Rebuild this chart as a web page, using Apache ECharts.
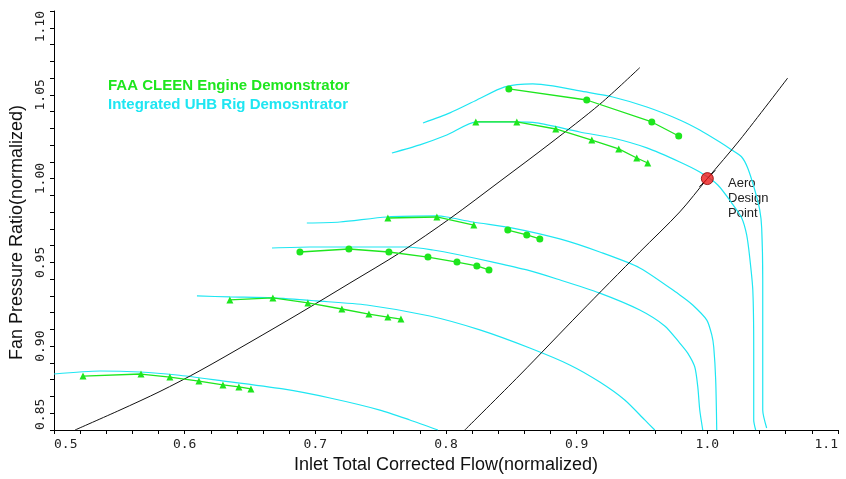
<!DOCTYPE html>
<html>
<head>
<meta charset="utf-8">
<script src="https://cdn.jsdelivr.net/npm/echarts@6/dist/echarts.min.js"></script>
<style>
  html, body { margin: 0; padding: 0; background: #fff; }
  #chart { width: 846px; height: 479px; }
</style>
</head>
<body>
<div id="chart"></div>
<script>
// rig speed lines (cyan), [flow, pressure ratio]
const rigLineA = [[0.7824,1.0332],[0.803,1.0392],[0.8236,1.0469],[0.845,1.0547],[0.8664,1.0565],[0.8817,1.0553],[0.9024,1.0523],[0.9276,1.0487],[0.9537,1.0427],[0.9789,1.035],[0.9942,1.029],[1.0095,1.0218],[1.0187,1.0171],[1.0263,1.0129],[1.0309,1.0063],[1.0363,0.9932],[1.0401,0.9813],[1.0416,0.9705],[1.0424,0.9395],[1.0424,0.8977],[1.0424,0.8619],[1.0454,0.8512]];
const rigLineB = [[0.7586,1.0153],[0.78,1.0201],[0.8006,1.026],[0.8236,1.0338],[0.8511,1.0338],[0.8695,1.0332],[0.9024,1.0278],[0.9276,1.0242],[0.9537,1.0183],[0.9789,1.0099],[0.9942,1.0039],[1.008,0.9962],[1.0187,0.9854],[1.0263,0.9765],[1.0301,0.9664],[1.0324,0.9532],[1.0348,0.9335],[1.0355,0.8977],[1.0355,0.856],[1.037,0.85]];
const rigLineC = [[0.6935,0.9735],[0.7188,0.9741],[0.7547,0.9771],[0.793,0.9777],[0.8006,0.9771],[0.8205,0.9741],[0.8511,0.9705],[0.8871,0.964],[0.9177,0.9562],[0.9483,0.9467],[0.9789,0.9306],[0.9888,0.9246],[0.9996,0.9156],[1.0034,0.9067],[1.0049,0.8995],[1.0064,0.8798],[1.0072,0.85]];
const rigLineD = [[0.6668,0.9586],[0.6958,0.9592],[0.7341,0.9592],[0.7701,0.9592],[0.79,0.9574],[0.8106,0.9544],[0.8359,0.9502],[0.8619,0.9455],[0.8849,0.9401],[0.9177,0.9317],[0.9483,0.9216],[0.9674,0.9121],[0.9789,0.9019],[0.985,0.8959],[0.9904,0.8876],[0.9927,0.8757],[0.9942,0.8619],[0.9965,0.85]];
const rigLineE = [[0.6094,0.93],[0.6346,0.9294],[0.6675,0.9288],[0.7012,0.927],[0.7394,0.9246],[0.7876,0.918],[0.8259,0.9097],[0.8641,0.8989],[0.8947,0.8888],[0.9177,0.8786],[0.9368,0.8679],[0.9521,0.856],[0.9598,0.85]];
const rigLineF = [[0.5,0.8834],[0.5352,0.8852],[0.5658,0.8846],[0.5941,0.8828],[0.6247,0.8798],[0.6752,0.8745],[0.7112,0.8691],[0.7494,0.8619],[0.7723,0.856],[0.7938,0.85]];

// engine demonstrator points (green)
const engine1 = [[0.8481,1.0535],[0.9077,1.0469],[0.9575,1.0338],[0.9781,1.0254]];
const engine2 = [[0.8228,1.0338],[0.8542,1.0338],[0.884,1.0296],[0.9116,1.023],[0.9322,1.0177],[0.946,1.0123],[0.9544,1.0093]];
const engine3a = [[0.7555,0.9765],[0.793,0.9771],[0.8213,0.9723]];
const engine3b = [[0.8473,0.9693],[0.8618,0.9664],[0.8718,0.964]];
const engine4 = [[0.6882,0.9562],[0.7257,0.958],[0.7563,0.9562],[0.7862,0.9532],[0.8084,0.9502],[0.8236,0.9479],[0.8329,0.9455]];
const engine5 = [[0.6346,0.9276],[0.6675,0.9288],[0.6943,0.9258],[0.7203,0.9222],[0.741,0.9192],[0.7555,0.9174],[0.7655,0.9162]];
const engine6 = [[0.5222,0.8822],[0.5666,0.8834],[0.5887,0.8816],[0.6109,0.8792],[0.6293,0.8769],[0.6415,0.8757],[0.6507,0.8745]];

// operating lines (black) and design point
const opLineLow = [[0.5161,0.85],[0.5505,0.8619],[0.5811,0.873],[0.6117,0.8854],[0.65,0.9024],[0.6883,0.9198],[0.7265,0.9377],[0.7648,0.9558],[0.8031,0.9762],[0.8413,0.9984],[0.8796,1.0209],[0.9179,1.0445],[0.9483,1.0662]];
const opLineDesign = [[0.8144,0.85],[0.8565,0.8828],[0.9024,0.9198],[0.9483,0.9562],[0.9789,0.9801],[1.0,1.0],[1.0248,1.023],[1.0615,1.06]];
const designPoint = [[1.0, 1.0]];

const GREEN_NAME = 'FAA CLEEN Engine Demonstrator';
const CYAN_NAME = 'Integrated UHB Rig Demosntrator';
const GREEN = '#1ee61e';
const CYAN = '#1ee6f2';

const chart = echarts.init(document.getElementById('chart'), null, { renderer: 'canvas' });

function rigSeries(data) {
  return {
    name: CYAN_NAME, type: 'line', data: data, smooth: 0.25, symbol: 'none',
    lineStyle: { color: CYAN, width: 1.2 }, itemStyle: { color: CYAN }, z: 2
  };
}
function engineSeries(data, symbol) {
  return {
    name: GREEN_NAME, type: 'line', data: data, symbol: symbol, symbolSize: 7,
    lineStyle: { color: GREEN, width: 1.3 }, itemStyle: { color: GREEN }, z: 3
  };
}
function opSeries(data) {
  return {
    name: 'op', type: 'line', data: data, smooth: 0.3, symbol: 'none',
    lineStyle: { color: '#111', width: 1 }, z: 2
  };
}

const option = {
  backgroundColor: '#fff',
  animation: false,
  grid: { left: 54, right: 8, top: 11, bottom: 49 },
  legend: {
    orient: 'vertical',
    left: 97,
    top: 73,
    itemWidth: 0,
    itemHeight: 0,
    itemGap: 4,
    selectedMode: false,
    textStyle: { fontFamily: 'Liberation Sans', fontSize: 15, fontWeight: 'bold' },
    data: [
      { name: GREEN_NAME, textStyle: { color: GREEN } },
      { name: CYAN_NAME, textStyle: { color: CYAN } }
    ]
  },
  xAxis: {
    type: 'value',
    min: 0.5,
    max: 1.1,
    interval: 0.1,
    name: 'Inlet Total Corrected Flow(normalized)',
    nameLocation: 'middle',
    nameGap: 26,
    nameTextStyle: { fontFamily: 'Liberation Sans', fontSize: 18, color: '#111' },
    axisLine: { lineStyle: { color: '#000', width: 1 } },
    axisTick: { length: 4, lineStyle: { color: '#000' } },
    minorTick: { show: true, splitNumber: 5, length: 4, lineStyle: { color: '#000' } },
    splitLine: { show: false },
    axisLabel: {
      fontFamily: 'DejaVu Sans Mono', fontSize: 13, color: '#222', margin: 8,
      alignMinLabel: 'left', alignMaxLabel: 'right',
      formatter: (v) => v.toFixed(1)
    }
  },
  yAxis: {
    type: 'value',
    min: 0.85,
    max: 1.1,
    interval: 0.05,
    name: 'Fan Pressure Ratio(normalized)',
    nameLocation: 'middle',
    nameGap: 27,
    nameTextStyle: { fontFamily: 'Liberation Sans', fontSize: 18, color: '#111', padding: [0, 24, 0, 0] },
    axisLine: { lineStyle: { color: '#000', width: 1 } },
    axisTick: { length: 4, lineStyle: { color: '#000' } },
    minorTick: { show: true, splitNumber: 5, length: 4, lineStyle: { color: '#000' } },
    splitLine: { show: false },
    axisLabel: {
      rotate: 90, fontFamily: 'DejaVu Sans Mono', fontSize: 13, color: '#222', margin: 7,
      alignMinLabel: 'left', alignMaxLabel: 'right',
      formatter: (v) => v.toFixed(2)
    }
  },
  series: [
    rigSeries(rigLineA), rigSeries(rigLineB), rigSeries(rigLineC),
    rigSeries(rigLineD), rigSeries(rigLineE), rigSeries(rigLineF),
    opSeries(opLineLow), opSeries(opLineDesign),
    engineSeries(engine1, 'circle'),
    engineSeries(engine2, 'triangle'),
    engineSeries(engine3a, 'triangle'),
    engineSeries(engine3b, 'circle'),
    engineSeries(engine4, 'circle'),
    engineSeries(engine5, 'triangle'),
    engineSeries(engine6, 'triangle'),
    {
      name: 'Aero Design Point', type: 'scatter', data: designPoint, symbolSize: 12,
      itemStyle: { color: '#ee1c1c', borderColor: '#8a0000', borderWidth: 1 }, z: 4
    },
    opSeries([[0.9939, 0.9951], [1.0061, 1.0049]])
  ],
  graphic: [
    {
      type: 'group', left: 722, top: 170, z: 100,
      children: [
        { type: 'rect', shape: { x: 0, y: 0, width: 62, height: 57 }, style: { fill: '#fff' } },
        {
          type: 'text', x: 6, y: 6,
          style: { text: 'Aero\nDesign\nPoint', fontFamily: 'Liberation Sans', fontSize: 13, lineHeight: 15, fill: '#222' }
        }
      ]
    }
  ]
};
chart.setOption(option);
</script>
</body>
</html>
